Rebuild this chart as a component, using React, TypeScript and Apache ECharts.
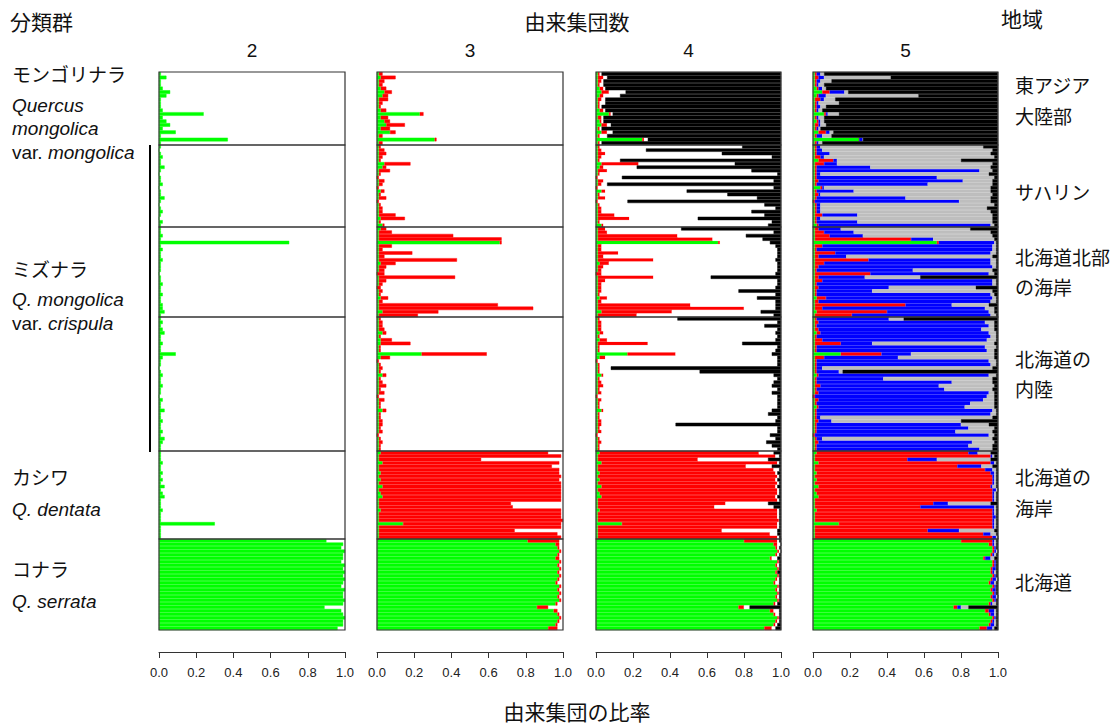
import React, { useEffect, useRef } from "react";
import * as echarts from "echarts";

// ---------------- data (percent of ancestry per individual, top to bottom) ----------------
// groups (rows): East Asia 20, Sakhalin 24, Hokkaido N coast 26, Hokkaido inland 38, Hokkaido coast (dentata) 26, Hokkaido (serrata) 26
const groupSizes = [20, 24, 26, 38, 26, 26];
const panelLabels = ["2", "3", "4", "5"];
const tickValues = [0, 0.2, 0.4, 0.6, 0.8, 1.0];

// K = 2
const k2Green = [
  1, 4, 1, 1, 2, 6, 4, 1, 1, 1, 2, 24, 2, 4, 6, 2, 9, 1, 37, 1,
  1, 0, 1, 2, 1, 1, 3, 1, 0, 1, 1, 2, 0, 1, 1, 3, 1, 0, 1, 2, 1, 0, 2, 1,
  1, 1, 2, 1, 70, 1, 2, 1, 1, 2, 1, 1, 1, 0, 1, 1, 2, 1, 1, 2, 1, 1, 2, 2, 3, 1,
  1, 2, 1, 2, 3, 1, 1, 2, 1, 1, 9, 2, 1, 1, 0, 1, 2, 1, 1, 2, 1, 1, 0, 2, 1, 1, 3, 1, 1, 2, 1, 1, 2, 1, 3, 2, 1, 1,
  1, 1, 1, 2, 1, 1, 2, 1, 2, 1, 3, 1, 2, 3, 1, 1, 1, 2, 1, 1, 1, 30, 1, 1, 1, 1,
  90, 99, 98, 100, 99, 99, 98, 100, 99, 100, 99, 100, 99, 98, 100, 99, 99, 100, 99, 89, 98, 99, 100, 99, 99, 96,
];

// K = 3
const k3Green = [
  1, 2, 1, 1, 2, 4, 3, 1, 1, 1, 2, 23, 2, 4, 5, 2, 7, 1, 31, 1,
  1, 1, 1, 1, 1, 4, 3, 1, 1, 0, 1, 1, 0, 2, 1, 1, 0, 1, 1, 1, 1, 2, 1, 3,
  2, 1, 1, 1, 66, 1, 1, 1, 1, 1, 2, 1, 1, 0, 1, 1, 1, 0, 1, 1, 2, 1, 1, 1, 3, 1,
  1, 1, 1, 1, 3, 1, 2, 2, 1, 1, 24, 2, 0, 1, 1, 1, 3, 1, 1, 1, 1, 1, 0, 1, 1, 1, 3, 1, 1, 1, 1, 1, 1, 0, 1, 1, 1, 1,
  2, 1, 1, 3, 1, 1, 2, 1, 2, 1, 3, 1, 2, 3, 1, 1, 1, 2, 1, 1, 1, 14, 1, 1, 1, 1,
  81, 96, 97, 98, 97, 96, 98, 97, 98, 97, 98, 97, 96, 98, 97, 98, 97, 98, 96, 86, 95, 97, 98, 97, 96, 92,
];
const k3Red = [
  2, 8, 3, 2, 3, 4, 3, 5, 2, 1, 3, 2, 4, 3, 10, 5, 3, 2, 1, 2,
  1, 3, 4, 2, 1, 14, 2, 6, 1, 1, 3, 2, 1, 2, 1, 4, 1, 1, 2, 2, 9, 13, 1, 1,
  3, 7, 40, 66, 1, 7, 2, 18, 3, 42, 8, 4, 3, 4, 41, 4, 2, 2, 2, 1, 4, 2, 64, 83, 30, 21,
  1, 2, 2, 3, 2, 1, 6, 16, 1, 1, 35, 5, 1, 1, 2, 1, 2, 1, 2, 4, 1, 3, 1, 3, 1, 1, 2, 1, 1, 2, 2, 1, 2, 1, 1, 2, 1, 1,
  90, 98, 55, 95, 93, 97, 96, 98, 96, 98, 96, 98, 97, 96, 98, 71, 72, 97, 98, 98, 99, 85, 98, 73, 96, 98,
  17, 2, 1, 1, 1, 2, 1, 1, 1, 1, 1, 1, 1, 1, 1, 1, 1, 1, 1, 6, 2, 1, 1, 1, 1, 5,
];

// K = 4 (black = remainder)
const k4Green = [
  1, 1, 1, 1, 2, 3, 2, 1, 1, 1, 2, 7, 1, 2, 3, 1, 3, 1, 25, 1,
  1, 1, 1, 1, 1, 3, 2, 1, 1, 0, 1, 1, 0, 3, 1, 1, 0, 1, 1, 1, 1, 1, 1, 3,
  1, 1, 1, 1, 66, 1, 1, 1, 1, 1, 2, 1, 1, 0, 1, 1, 1, 1, 1, 1, 2, 1, 1, 1, 3, 1,
  1, 1, 1, 1, 2, 1, 2, 1, 1, 1, 17, 2, 0, 1, 1, 1, 3, 1, 1, 1, 1, 1, 0, 1, 1, 1, 3, 1, 1, 1, 1, 1, 1, 0, 1, 1, 1, 1,
  2, 1, 1, 3, 1, 1, 2, 1, 2, 1, 3, 1, 2, 3, 1, 1, 1, 2, 1, 1, 1, 14, 1, 1, 1, 1,
  80, 96, 97, 98, 97, 94, 98, 97, 98, 97, 98, 97, 96, 98, 97, 98, 97, 98, 96, 77, 94, 96, 98, 97, 96, 91,
];
const k4Red = [
  1, 3, 2, 1, 2, 4, 2, 2, 1, 1, 2, 1, 2, 1, 3, 1, 3, 1, 1, 1,
  1, 2, 4, 2, 1, 20, 2, 5, 1, 1, 3, 2, 1, 2, 1, 4, 1, 1, 2, 2, 9, 17, 1, 1,
  4, 5, 43, 62, 1, 2, 2, 11, 3, 30, 5, 3, 2, 3, 30, 4, 2, 2, 2, 1, 4, 2, 50, 79, 38, 21,
  1, 2, 2, 2, 2, 1, 4, 27, 1, 1, 26, 3, 1, 1, 1, 1, 1, 1, 2, 3, 1, 2, 1, 2, 1, 1, 1, 1, 1, 2, 2, 1, 2, 1, 1, 2, 1, 1,
  86, 96, 54, 95, 80, 95, 95, 97, 95, 97, 94, 97, 96, 94, 97, 69, 63, 96, 97, 97, 98, 84, 97, 67, 93, 97,
  18, 2, 1, 1, 1, 1, 1, 1, 1, 1, 1, 1, 1, 1, 1, 1, 1, 1, 1, 3, 2, 1, 1, 1, 1, 4,
];
const k4White = [
  1, 2, 1, 2, 1, 9, 9, 2, 3, 1, 1, 1, 1, 1, 2, 1, 3, 4, 2, 1,
  77, 24, 63, 92, 11, 52, 18, 78, 96, 13, 92, 3, 95, 44, 69, 82, 16, 89, 94, 81, 81, 37, 93, 89,
  41, 90, 37, 27, 27, 94, 95, 86, 94, 66, 91, 94, 95, 94, 31, 93, 95, 94, 74, 95, 81, 94, 46, 17, 48, 74,
  42, 95, 88, 95, 93, 96, 91, 51, 96, 95, 52, 93, 97, 96, 6, 54, 92, 96, 93, 91, 96, 92, 97, 95, 96, 96, 91, 91, 96, 94, 40, 96, 95, 93, 95, 89, 93, 96,
  8, 2, 38, 1, 14, 3, 1, 1, 1, 1, 1, 1, 1, 1, 1, 23, 32, 1, 1, 1, 0, 1, 1, 30, 4, 1,
  1, 2, 1, 1, 1, 3, 0, 1, 0, 0, 0, 1, 2, 0, 1, 0, 1, 0, 1, 3, 3, 2, 0, 1, 1, 2,
];

// K = 5 (black = remainder)
const k5Green = [
  1, 1, 1, 1, 2, 5, 2, 1, 1, 1, 1, 6, 1, 2, 1, 1, 3, 1, 25, 1,
  1, 1, 1, 1, 3, 1, 1, 1, 1, 1, 1, 1, 4, 1, 1, 1, 0, 1, 1, 1, 1, 1, 1, 2,
  1, 1, 1, 1, 67, 1, 1, 1, 1, 1, 1, 1, 1, 1, 1, 1, 1, 1, 1, 1, 2, 1, 1, 1, 2, 1,
  1, 1, 1, 1, 2, 1, 1, 1, 1, 1, 15, 1, 1, 1, 1, 1, 2, 1, 1, 1, 1, 1, 0, 1, 1, 2, 1, 1, 1, 1, 1, 1, 1, 0, 1, 1, 1, 1,
  2, 1, 1, 3, 1, 1, 2, 1, 2, 1, 3, 1, 2, 3, 1, 1, 1, 2, 1, 1, 1, 14, 1, 1, 1, 1,
  80, 95, 97, 97, 96, 92, 97, 97, 96, 96, 97, 96, 95, 97, 96, 97, 96, 97, 95, 76, 93, 95, 97, 96, 95, 90,
];
const k5Red = [
  1, 2, 1, 1, 1, 4, 1, 3, 1, 1, 1, 1, 1, 1, 2, 1, 4, 1, 0, 1,
  1, 1, 1, 3, 8, 5, 1, 1, 1, 1, 2, 1, 1, 1, 2, 1, 1, 1, 1, 1, 4, 1, 1, 1,
  2, 5, 8, 52, 1, 4, 1, 11, 2, 29, 5, 2, 1, 30, 2, 4, 1, 2, 1, 1, 5, 2, 49, 4, 38, 20,
  1, 2, 1, 2, 2, 1, 4, 14, 1, 1, 22, 5, 1, 1, 1, 1, 1, 1, 1, 3, 1, 2, 1, 2, 1, 1, 1, 1, 1, 2, 1, 1, 1, 1, 1, 2, 1, 1,
  82, 95, 50, 93, 77, 92, 94, 96, 95, 96, 93, 96, 95, 94, 96, 64, 57, 95, 96, 96, 96, 83, 96, 61, 91, 96,
  17, 2, 1, 1, 1, 1, 1, 1, 1, 1, 1, 1, 1, 1, 1, 1, 1, 1, 1, 2, 2, 1, 1, 1, 1, 4,
];
const k5Blue = [
  2, 3, 2, 1, 2, 8, 4, 2, 1, 2, 1, 1, 1, 1, 1, 1, 2, 3, 2, 1,
  2, 3, 7, 2, 2, 7, 29, 88, 2, 65, 78, 60, 1, 20, 1, 48, 78, 2, 2, 2, 19, 2, 22, 93,
  12, 16, 18, 12, 30, 92, 95, 84, 15, 66, 90, 94, 52, 64, 25, 92, 95, 38, 30, 94, 90, 93, 25, 88, 55, 75,
  39, 90, 93, 88, 91, 94, 89, 17, 91, 92, 16, 40, 93, 94, 3, 12, 92, 36, 73, 64, 69, 92, 93, 89, 83, 79, 95, 94, 2, 7, 78, 82, 75, 94, 3, 83, 82, 88,
  5, 1, 16, 2, 13, 4, 2, 1, 1, 1, 1, 2, 1, 1, 1, 8, 40, 1, 1, 2, 1, 1, 1, 17, 4, 2,
  1, 1, 1, 1, 1, 3, 1, 1, 2, 1, 1, 2, 2, 1, 2, 1, 2, 1, 1, 2, 3, 2, 1, 1, 2, 3,
];
const k5Grey = [
  2, 36, 6, 3, 2, 2, 50, 6, 11, 3, 2, 6, 3, 2, 3, 1, 2, 5, 0, 2,
  88, 92, 87, 92, 67, 84, 65, 7, 91, 31, 16, 35, 90, 74, 93, 46, 17, 94, 90, 92, 73, 93, 73, 2,
  70, 74, 70, 33, 1, 2, 2, 3, 79, 3, 3, 2, 43, 3, 30, 2, 2, 47, 65, 2, 2, 3, 20, 5, 3, 3,
  8, 5, 3, 7, 4, 3, 5, 66, 6, 4, 45, 52, 4, 3, 92, 2, 4, 59, 22, 30, 26, 3, 4, 6, 13, 16, 2, 3, 93, 70, 15, 14, 20, 3, 92, 12, 13, 7,
  7, 1, 29, 1, 6, 2, 1, 1, 1, 1, 2, 1, 1, 1, 1, 23, 1, 1, 1, 0, 1, 1, 1, 19, 3, 1,
  1, 1, 0, 1, 1, 2, 0, 0, 0, 1, 0, 1, 1, 0, 0, 0, 1, 0, 2, 4, 1, 1, 0, 1, 1, 1,
];

const leftLabels = [
  { text: "モンゴリナラ", y: 75 },
  { text: "{i|Quercus}", y: 105 },
  { text: "{i|mongolica}", y: 128 },
  { text: "var. {i|mongolica}", y: 152 },
  { text: "ミズナラ", y: 270 },
  { text: "{i|Q. mongolica}", y: 299 },
  { text: "var. {i|crispula}", y: 323 },
  { text: "カシワ", y: 478 },
  { text: "{i|Q. dentata}", y: 509 },
  { text: "コナラ", y: 570 },
  { text: "{i|Q. serrata}", y: 601 },
];
const rightLabels = [
  { text: "東アジア", y: 86 },
  { text: "大陸部", y: 117 },
  { text: "サハリン", y: 193 },
  { text: "北海道北部", y: 258 },
  { text: "の海岸", y: 288 },
  { text: "北海道の", y: 360 },
  { text: "内陸", y: 390 },
  { text: "北海道の", y: 478 },
  { text: "海岸", y: 509 },
  { text: "北海道", y: 583 },
];

// ---------------- styling / layout ----------------
const GREEN = "#00ff00";
const RED = "#ff0000";
const BLUE = "#0000ff";
const GREY = "#bebebe";
const BLACK = "#000000";
const WHITE = "#ffffff";
const FONT = '"Liberation Sans", Arial, "Noto Sans CJK JP", sans-serif';
const TEXT_COLOR = "#111";

const groupEdges = [72, 145, 227, 317, 451, 539, 630];

type Part = [number[], string];
const panels: { left: number; width: number; parts: Part[]; rest: string | null }[] = [
  { left: 159, width: 186, parts: [[k2Green, GREEN]], rest: null },
  { left: 377, width: 186, parts: [[k3Green, GREEN], [k3Red, RED]], rest: null },
  { left: 596, width: 185, parts: [[k4Green, GREEN], [k4Red, RED], [k4White, WHITE]], rest: BLACK },
  { left: 813, width: 185, parts: [[k5Green, GREEN], [k5Red, RED], [k5Blue, BLUE], [k5Grey, GREY]], rest: BLACK },
];

function textEl(text: string, x: number, y: number, size: number, align: string, extra: any = {}) {
  return {
    type: "text",
    x,
    y,
    silent: true,
    style: {
      text,
      fill: TEXT_COLOR,
      fontSize: size,
      fontFamily: FONT,
      textAlign: align,
      align,
      textVerticalAlign: "middle",
      verticalAlign: "middle",
      ...extra,
    },
  };
}

function buildOption() {
  const grids: any[] = [];
  const xAxes: any[] = [];
  const yAxes: any[] = [];
  const series: any[] = [];

  panels.forEach((p) => {
    let offset = 0;
    groupSizes.forEach((n, gi) => {
      const idx = grids.length;
      const isBottom = gi === groupSizes.length - 1;
      grids.push({
        left: p.left,
        width: p.width,
        top: groupEdges[gi],
        height: groupEdges[gi + 1] - groupEdges[gi],
        show: true,
        borderColor: "#333",
        borderWidth: 1.2,
        backgroundColor: "transparent",
        z: 6,
      });
      xAxes.push({
        gridIndex: idx,
        type: "value",
        min: 0,
        max: 1,
        interval: 0.2,
        show: isBottom,
        position: "bottom",
        offset: 22,
        axisLine: { show: true, onZero: false, lineStyle: { color: "#333", width: 1 } },
        axisTick: { show: true, length: 6, lineStyle: { color: "#333", width: 1 } },
        axisLabel: {
          show: true,
          fontSize: 13,
          color: "#222",
          fontFamily: FONT,
          margin: 14,
          formatter: (v: number) => (tickValues.some((t) => Math.abs(t - v) < 1e-6) ? v.toFixed(1) : ""),
        },
        splitLine: { show: false },
      });
      const rows = Array.from({ length: n }, (_, i) => String(offset + i));
      yAxes.push({ gridIndex: idx, type: "category", data: rows, inverse: true, show: false });

      const stack = "st" + idx;
      const slices = p.parts.map(([arr, color]) => [arr.slice(offset, offset + n), color] as [number[], string]);
      const mk = (vals: number[], color: string) => ({
        type: "bar",
        xAxisIndex: idx,
        yAxisIndex: idx,
        stack,
        data: vals,
        barWidth: "100%",
        barCategoryGap: "0%",
        silent: true,
        itemStyle: { color, borderColor: color, borderWidth: 0.45 },
        z: 2,
      });
      slices.forEach(([vals, color]) => series.push(mk(vals.map((v) => v / 100), color)));
      if (p.rest) {
        const restVals = rows.map((_, i) => Math.max(0, 100 - slices.reduce((s, [vals]) => s + vals[i], 0)) / 100);
        series.push(mk(restVals, p.rest));
      }
      offset += n;
    });
  });

  const elements: any[] = [];
  elements.push(textEl("分類群", 10, 22, 21, "left"));
  elements.push(textEl("由来集団数", 577, 22, 21, "center"));
  elements.push(textEl("地域", 1001, 19, 21, "left"));
  elements.push(textEl("由来集団の比率", 577, 712, 21, "center"));
  panels.forEach((p, i) => elements.push(textEl(panelLabels[i], p.left + p.width / 2, 50, 19, "center")));
  leftLabels.forEach((l) =>
    elements.push(
      textEl(l.text, 12, l.y, 19, "left", {
        rich: { i: { fontStyle: "italic", fontSize: 19, fontFamily: FONT, fill: TEXT_COLOR } },
      })
    )
  );
  rightLabels.forEach((l) => elements.push(textEl(l.text, 1015, l.y, 19, "left")));
  elements.push({
    type: "line",
    silent: true,
    shape: { x1: 150, y1: 145, x2: 150, y2: 452 },
    style: { stroke: "#000", lineWidth: 2 },
  });

  return {
    animation: false,
    backgroundColor: "#ffffff",
    grid: grids,
    xAxis: xAxes,
    yAxis: yAxes,
    series,
    graphic: { elements },
  };
}

export default function App() {
  const ref = useRef<HTMLDivElement>(null);
  useEffect(() => {
    if (!ref.current) return;
    const chart = echarts.init(ref.current, null, { renderer: "svg" });
    chart.setOption(buildOption() as any);
    return () => chart.dispose();
  }, []);
  return (
    <div
      ref={ref}
      style={{ position: "absolute", left: 0, top: 0, width: 1118, height: 728, background: "#fff" }}
    />
  );
}
